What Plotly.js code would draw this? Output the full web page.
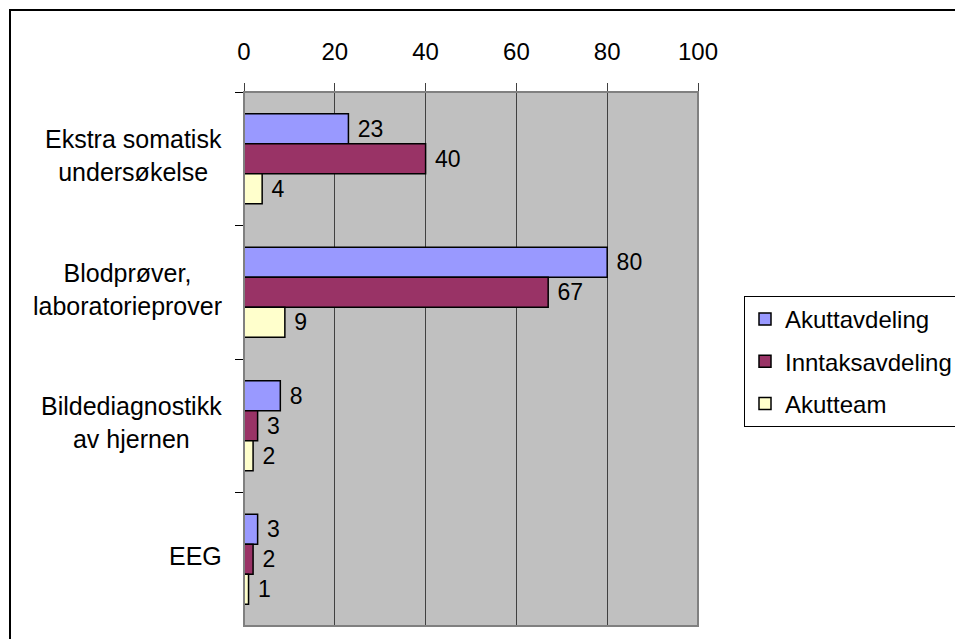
<!DOCTYPE html>
<html>
<head>
<meta charset="utf-8">
<script src="https://cdn.plot.ly/plotly-3.0.1.min.js"></script>
<style>
  html, body { margin: 0; padding: 0; background: #fff; overflow: hidden; }
  #wrap { position: relative; width: 955px; height: 639px; }
  #chart { position: absolute; left: 0; top: 0; width: 955px; height: 639px; }
  #frame { position: absolute; left: 9px; top: 9px; width: 1000px; height: 700px;
           border-left: 2px solid #000; border-top: 2px solid #000; pointer-events: none; }
</style>
</head>
<body>
<div id="wrap">
  <div id="chart"></div>
  <div id="frame"></div>
</div>
<script>
// Data
const categories = [
  "Ekstra somatisk<br>undersøkelse",
  "Blodprøver,<br>laboratorieprover",
  "Bildediagnostikk<br>av hjernen",
  "EEG"
];
const seriesNames = ["Akuttavdeling", "Inntaksavdeling", "Akutteam"];
const akuttavdeling = [23, 80, 8, 3];
const inntaksavdeling = [40, 67, 3, 2];
const akutteam = [4, 9, 2, 1];
const xTickVals = [0, 20, 40, 60, 80, 100];

const seriesValues = [akuttavdeling, inntaksavdeling, akutteam];
const colors = ["#9999FF", "#993366", "#FFFFCC"];
const FONT = "Arial, 'Liberation Sans', sans-serif";

const traces = seriesValues.map((vals, i) => ({
  type: "bar",
  orientation: "h",
  name: seriesNames[i],
  legendgroup: "g" + i,
  y: categories,
  x: vals,
  text: vals.map(v => "\u00a0" + v),
  textposition: "outside",
  constraintext: "none",
  cliponaxis: false,
  textfont: { family: FONT, size: 23, color: "#000" },
  marker: { color: colors[i], line: { color: "#000", width: 1.5 } },
  hoverinfo: "x+name"
}));

const annotations = categories.map(c => ({
  text: c,
  xref: "paper", x: 0, xanchor: "right", xshift: -20,
  yref: "y", y: c, yanchor: "middle", yshift: 3,
  align: "center",
  showarrow: false,
  font: { family: FONT, size: 25, color: "#000" }
}));

const layout = {
  width: 955, height: 639,
  margin: { l: 244, r: 257, t: 92, b: 13, pad: 0, autoexpand: false },
  paper_bgcolor: "#ffffff",
  plot_bgcolor: "#C0C0C0",
  barmode: "group",
  bargap: 0.326,
  bargroupgap: 0,
  showlegend: true,
  legend: {
    xref: "container", yref: "container",
    x: 744 / 955, xanchor: "left",
    y: 1 - 296 / 639, yanchor: "top",
    bordercolor: "#000", borderwidth: 1,
    bgcolor: "#fff",
    font: { family: FONT, size: 24, color: "#000" },
    traceorder: "grouped",
    tracegroupgap: 8,
    itemwidth: 30
  },
  xaxis: {
    side: "top",
    range: [0, 100],
    tickvals: xTickVals,
    ticktext: xTickVals.map(String),
    ticks: "outside", ticklen: 8, tickcolor: "#404040", tickwidth: 1,
    showgrid: true, gridcolor: "#404040", gridwidth: 1,
    zeroline: false,
    showline: false,
    tickfont: { family: FONT, size: 24, color: "#000" },
    ticklabelstandoff: 13,
    fixedrange: true
  },
  yaxis: {
    type: "category",
    autorange: "reversed",
    showticklabels: false,
    ticks: "outside", ticklen: 8, tickcolor: "#000", tickwidth: 1,
    tickson: "boundaries",
    showgrid: false,
    zeroline: false,
    showline: true, linecolor: "#000", linewidth: 1,
    fixedrange: true
  },
  shapes: [{
    type: "rect", xref: "paper", yref: "paper",
    x0: 0, x1: 1, y0: 0, y1: 1,
    line: { color: "#808080", width: 2 },
    fillcolor: "rgba(0,0,0,0)",
    layer: "above"
  }],
  annotations: annotations,
  font: { family: FONT, color: "#000" }
};

Plotly.newPlot("chart", traces, layout, { displayModeBar: false, staticPlot: true });
</script>
</body>
</html>
